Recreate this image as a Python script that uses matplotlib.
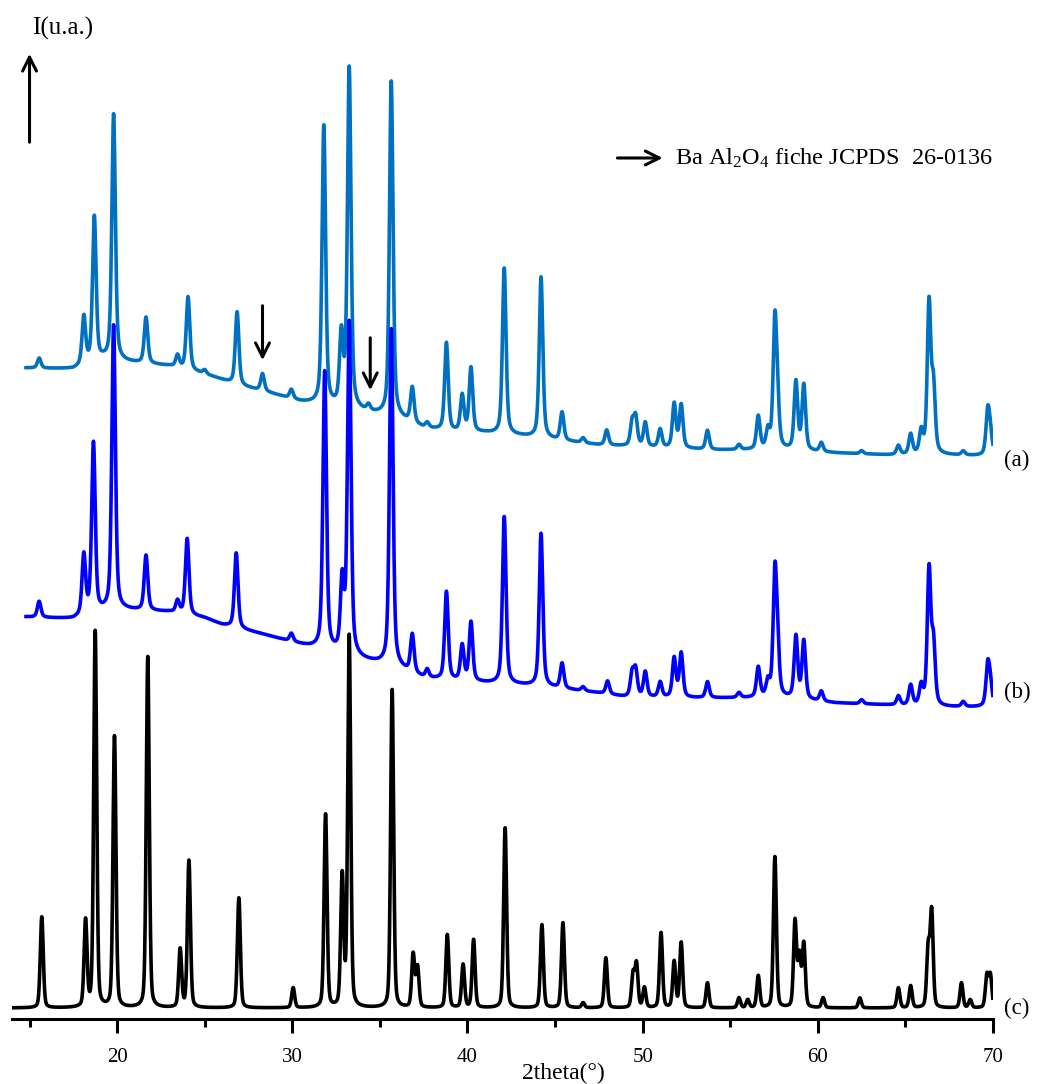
import numpy as np
import matplotlib.pyplot as plt

plt.rcParams['font.family'] = ['Liberation Serif', 'DejaVu Serif']
plt.rcParams['mathtext.fontset'] = 'custom'
plt.rcParams['mathtext.rm'] = 'Liberation Serif'
plt.rcParams['mathtext.it'] = 'Liberation Serif:italic'

# ---- data: 2theta (deg), intensity (arb. units, stacked) ----
# (a)
a_base_x = [14.8, 17.5, 19.2, 20.5, 23.0, 24.5, 25.5, 27.0, 28.5, 30.5, 34.0, 36.0, 37.5, 39.0,
            41.0, 43.0, 45.0, 47.5, 50.0, 54.0, 58.0, 61.0, 64.0, 67.0, 70.0]
a_base_y = [651, 650, 659, 657, 653, 647, 642, 633, 627, 617, 607, 601, 591, 587,
            586, 583, 579, 574, 572, 569, 569, 566, 564, 564, 563]
a_pos = [15.55, 18.1, 18.7, 19.8, 21.65, 23.45, 24.05, 25.0, 26.85, 28.3, 29.95, 31.8, 32.8,
         33.25, 34.35, 35.65, 36.85, 37.7, 38.8, 39.7, 40.2, 42.1, 44.2, 45.4, 46.6, 47.95,
         49.4, 49.6, 50.15, 51.0, 51.8, 52.2, 53.7, 55.5, 56.6, 57.15, 57.55, 57.7, 58.75,
         59.2, 60.2, 62.5, 64.6, 65.3, 65.9, 66.35, 66.6, 68.3, 69.7, 69.85]
a_height = [10, 48, 145, 246, 46, 12, 73, 4, 73, 17, 9, 279, 70,
            340, 6, 335, 35, 5, 88, 36, 64, 166, 161, 28, 5, 15,
            23, 28, 24, 18, 44, 43, 19, 5, 33, 18, 125, 35, 68,
            65, 9, 3, 9, 20, 22, 150, 65, 4, 43, 20]

# (b)
b_base_x = [14.8, 17.5, 19.2, 20.5, 23.0, 25.0, 26.0, 28.0, 29.5, 31.0, 34.0, 36.0, 37.5, 38.5,
            41.0, 43.0, 45.0, 47.5, 49.0, 53.0, 56.0, 58.0, 61.0, 64.0, 67.0, 70.0]
b_base_y = [402, 400, 407, 409, 407, 401, 394, 386, 379, 372, 359, 351, 341, 339,
            336, 334, 331, 326, 322, 321, 321, 321, 316, 314, 312, 312]
b_pos = [15.55, 18.1, 18.65, 19.8, 21.65, 23.45, 24.0, 26.8, 29.95, 31.85, 32.85, 33.25,
         35.65, 36.85, 37.7, 38.8, 39.7, 40.2, 42.1, 44.2, 45.4, 46.6, 48.0, 49.4, 49.6,
         50.15, 51.0, 51.8, 52.2, 53.7, 55.5, 56.6, 57.15, 57.55, 57.7, 58.75, 59.2, 60.2,
         62.5, 64.6, 65.3, 65.9, 66.35, 66.6, 68.3, 69.7, 69.85]
b_height = [16, 60, 170, 285, 55, 12, 76, 75, 8, 278, 70, 332,
            337, 38, 8, 88, 35, 59, 167, 153, 25, 4, 13, 23, 26,
            25, 15, 39, 44, 16, 5, 30, 15, 120, 40, 62, 58, 10,
            4, 9, 20, 19, 135, 60, 5, 40, 20]

# (c) BaAl2O4 JCPDS 26-0136
c_base_x = [14.0, 70.0]
c_base_y = [11, 11]
c_pos = [15.7, 18.2, 18.75, 19.85, 21.75, 23.6, 24.1, 26.95, 30.05, 31.9, 32.85, 33.25,
         35.7, 36.9, 37.15, 38.85, 39.75, 40.35, 42.15, 44.25, 45.45, 46.6, 47.9, 49.45,
         49.65, 50.1, 51.05, 51.8, 52.2, 53.7, 55.5, 56.0, 56.6, 57.55, 58.7, 58.95, 59.2,
         60.3, 62.4, 64.6, 65.3, 66.3, 66.5, 68.2, 68.7, 69.65, 69.85]
c_height = [91, 86, 376, 271, 351, 58, 147, 110, 20, 193, 130, 371,
            318, 53, 40, 73, 43, 68, 180, 83, 85, 5, 50, 33,
            43, 20, 75, 46, 65, 25, 10, 8, 32, 151, 86, 50, 63,
            10, 10, 20, 22, 58, 95, 25, 8, 32, 32]

ticks_major = [20, 30, 40, 50, 60, 70]
ticks_minor = [15, 25, 35, 45, 55, 65]


def pattern(x, base_x, base_y, pos, height, fwhm, eta):
    y = np.interp(x, base_x, base_y).astype(float)
    for p, h in zip(pos, height):
        u = (x - p) / (fwhm / 2)
        y += h * (eta / (1 + u ** 2) + (1 - eta) * np.exp(-np.log(2) * u ** 2))
    return y


xs = np.arange(14.8, 70.0, 0.01)
xc = np.arange(14.0, 70.0, 0.01)
ya = pattern(xs, a_base_x, a_base_y, a_pos, a_height, 0.24, 0.5)
yb = pattern(xs, b_base_x, b_base_y, b_pos, b_height, 0.24, 0.5)
yc = pattern(xc, c_base_x, c_base_y, c_pos, c_height, 0.2, 0.3)

fig = plt.figure(figsize=(10.48, 10.84), dpi=100)
ax = fig.add_axes([12 / 1048, 65 / 1084, 981 / 1048, 1000 / 1084])
ax.plot(xs, ya, color='#0070C0', lw=2.6)
ax.plot(xs, yb, color='#0000FF', lw=2.6)
ax.plot(xc, yc, color='black', lw=2.6)

ax.set_xlim(14.0, 70.0)
ax.set_ylim(0, 1000)
for s in ['left', 'right', 'top']:
    ax.spines[s].set_visible(False)
ax.spines['bottom'].set_linewidth(2.2)
ax.set_yticks([])
ax.set_xticks(ticks_major)
ax.set_xticks(ticks_minor, minor=True)
ax.tick_params(axis='x', which='major', length=10, width=2.2, pad=11, labelsize=15)
ax.tick_params(axis='x', which='minor', length=6, width=2.2)

arrow = dict(arrowstyle='->', lw=2.2, color='black', mutation_scale=25)
ax.annotate('', xy=(28.3, 656), xytext=(28.3, 716), arrowprops=arrow)
ax.annotate('', xy=(34.45, 626), xytext=(34.45, 684), arrowprops=arrow)
ax.annotate('', xy=(15.0, 968), xytext=(15.0, 874), arrowprops=arrow)
ax.annotate('', xy=(51.3, 861), xytext=(48.4, 861), arrowprops=arrow)

ax.text(51.85, 861, r'Ba Al$_{2}$O$_{4}$ fiche JCPDS  26-0136', fontsize=17.5, va='center', ha='left')
fig.text(32 / 1048, 1 - 28 / 1084, 'I(u.a.)', fontsize=18, va='center', ha='left')
fig.text(1017 / 1048, 1 - 460 / 1084, '(a)', fontsize=16.5, va='center', ha='center')
fig.text(1017 / 1048, 1 - 692 / 1084, '(b)', fontsize=16.5, va='center', ha='center')
fig.text(1017 / 1048, 1 - 1008 / 1084, '(c)', fontsize=16.5, va='center', ha='center')
fig.text(563 / 1048, 1 - 1073 / 1084, '2theta(°)', fontsize=17, va='center', ha='center')

fig.savefig('out.png', dpi=100)
